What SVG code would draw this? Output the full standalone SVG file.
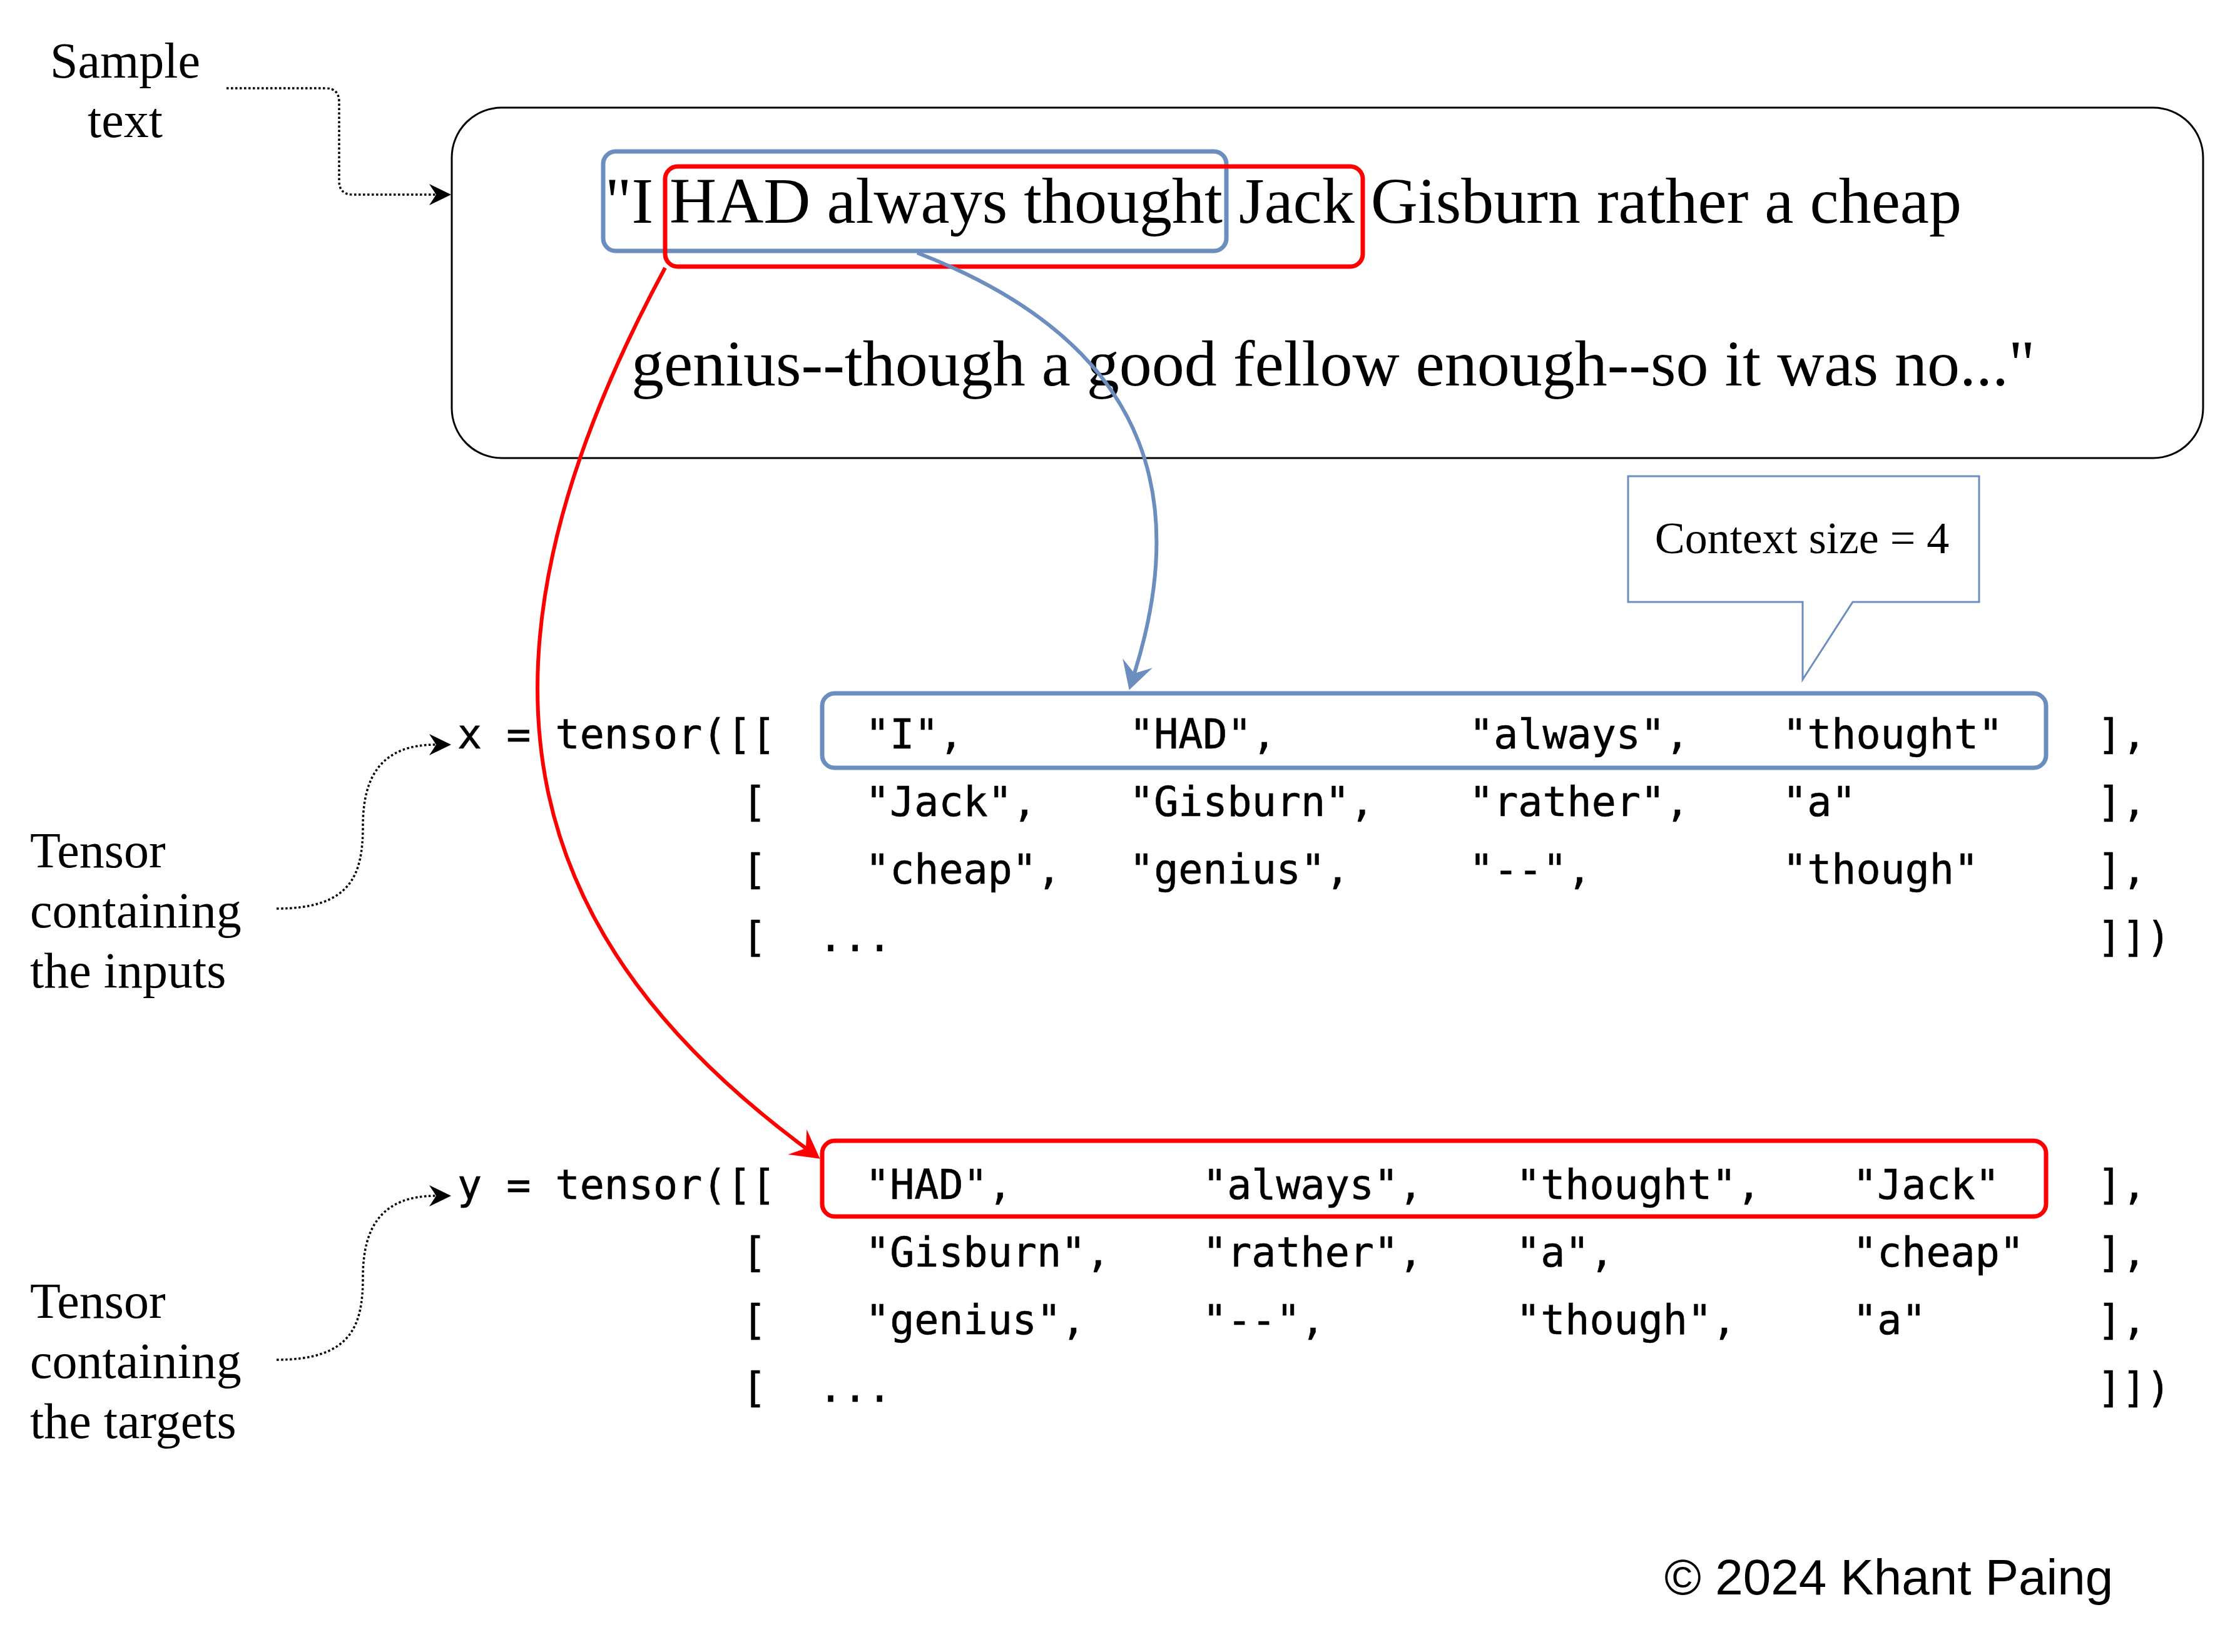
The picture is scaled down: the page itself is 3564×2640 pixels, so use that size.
<svg xmlns="http://www.w3.org/2000/svg" width="3564" height="2640" viewBox="0 0 3564 2640">
  <style>
    .serif { font-family: "Liberation Serif", "Times New Roman", serif; fill: #000; }
    .mono { font-family: "DejaVu Sans Mono", "Liberation Mono", monospace; font-size: 65px; fill: #000; stroke: #000; stroke-width: 0.6; }
    .lbl { font-size: 80px; }
    .main { font-size: 104px; }
    .blue { fill: none; stroke: #6c8ebf; stroke-width: 7; }
    .red { fill: none; stroke: #ff0000; stroke-width: 7; }
    .dot { fill: none; stroke: #000; stroke-width: 3.5; stroke-dasharray: 3.5 3.5; }
  </style>
  <defs>
    <marker id="ah-blue" viewBox="-46 -26 48 52" refX="-28" refY="0" markerWidth="48" markerHeight="52" markerUnits="userSpaceOnUse" orient="auto">
      <path d="M0,0 L-45,-25 L-28,0 L-45,25 Z" fill="#6c8ebf"/>
    </marker>
    <marker id="ah-red" viewBox="-46 -26 48 52" refX="-28" refY="0" markerWidth="48" markerHeight="52" markerUnits="userSpaceOnUse" orient="auto">
      <path d="M0,0 L-45,-25 L-28,0 L-45,25 Z" fill="#ff0000"/>
    </marker>
    <marker id="ah-black" viewBox="-37 -19 39 38" refX="-24" refY="0" markerWidth="39" markerHeight="38" markerUnits="userSpaceOnUse" orient="auto">
      <path d="M0,0 L-35,-17 L-24,0 L-35,17 Z" fill="#000"/>
    </marker>
  </defs>
  <rect width="3564" height="2640" fill="#fff"/>

  <g id="sample-label">
    <text class="serif lbl" x="200" y="124" text-anchor="middle">Sample</text>
    <text class="serif lbl" x="200" y="219" text-anchor="middle">text</text>
  </g>

  <g id="sample-text-box">
    <rect x="722" y="172" width="2799" height="560" rx="80" ry="80" fill="#fff" stroke="#000" stroke-width="3"/>
    <text class="serif main" x="967" y="356">"I HAD always thought Jack Gisburn rather a cheap</text>
    <text class="serif main" x="1009" y="616">genius--though a good fellow enough--so it was no..."</text>
  </g>

  <g id="input-window">
    <rect class="blue" x="964" y="242" width="996" height="159" rx="20" ry="20"/>
  </g>
  <g id="target-window">
    <rect class="red" x="1063" y="266" width="1115" height="160" rx="20" ry="20"/>
  </g>

  <g id="context-callout">
    <path d="M2602 761 H3163 V962 H2961 L2881 1086 V962 H2602 Z" fill="#fff" stroke="#6c8ebf" stroke-width="3"/>
    <text class="serif" x="2880" y="884" font-size="72" text-anchor="middle">Context size = 4</text>
  </g>

  <g id="x-tensor">
    <rect class="blue" x="1314" y="1108" width="1956" height="119" rx="20" ry="20"/>
    <text class="mono" x="731" y="1196">x = tensor([[</text>
    <text class="mono" x="1383" y="1196">"I",</text>
    <text class="mono" x="1805" y="1196">"HAD",</text>
    <text class="mono" x="2348" y="1196">"always",</text>
    <text class="mono" x="2849" y="1196">"thought"</text>
    <text class="mono" x="3352" y="1196">],</text>
    <text class="mono" x="1186" y="1304">[</text>
    <text class="mono" x="1383" y="1304">"Jack",</text>
    <text class="mono" x="1805" y="1304">"Gisburn",</text>
    <text class="mono" x="2348" y="1304">"rather",</text>
    <text class="mono" x="2849" y="1304">"a"</text>
    <text class="mono" x="3352" y="1304">],</text>
    <text class="mono" x="1186" y="1412">[</text>
    <text class="mono" x="1383" y="1412">"cheap",</text>
    <text class="mono" x="1805" y="1412">"genius",</text>
    <text class="mono" x="2348" y="1412">"--",</text>
    <text class="mono" x="2849" y="1412">"though"</text>
    <text class="mono" x="3352" y="1412">],</text>
    <text class="mono" x="1186" y="1520">[</text>
    <text class="mono" x="1308" y="1520">...</text>
    <text class="mono" x="3352" y="1520">]])</text>
  </g>

  <g id="y-tensor">
    <rect class="red" x="1314" y="1823" width="1956" height="121" rx="20" ry="20"/>
    <text class="mono" x="731" y="1916">y = tensor([[</text>
    <text class="mono" x="1383" y="1916">"HAD",</text>
    <text class="mono" x="1922" y="1916">"always",</text>
    <text class="mono" x="2423" y="1916">"thought",</text>
    <text class="mono" x="2961" y="1916">"Jack"</text>
    <text class="mono" x="3352" y="1916">],</text>
    <text class="mono" x="1186" y="2024">[</text>
    <text class="mono" x="1383" y="2024">"Gisburn",</text>
    <text class="mono" x="1922" y="2024">"rather",</text>
    <text class="mono" x="2423" y="2024">"a",</text>
    <text class="mono" x="2961" y="2024">"cheap"</text>
    <text class="mono" x="3352" y="2024">],</text>
    <text class="mono" x="1186" y="2132">[</text>
    <text class="mono" x="1383" y="2132">"genius",</text>
    <text class="mono" x="1922" y="2132">"--",</text>
    <text class="mono" x="2423" y="2132">"though",</text>
    <text class="mono" x="2961" y="2132">"a"</text>
    <text class="mono" x="3352" y="2132">],</text>
    <text class="mono" x="1186" y="2240">[</text>
    <text class="mono" x="1308" y="2240">...</text>
    <text class="mono" x="3352" y="2240">]])</text>
  </g>

  <g id="inputs-label">
    <text class="serif lbl" x="48" y="1386">Tensor</text>
    <text class="serif lbl" x="48" y="1482">containing</text>
    <text class="serif lbl" x="48" y="1578">the inputs</text>
  </g>

  <g id="targets-label">
    <text class="serif lbl" x="48" y="2106">Tensor</text>
    <text class="serif lbl" x="48" y="2202">containing</text>
    <text class="serif lbl" x="48" y="2298">the targets</text>
  </g>

  <g id="copyright">
    <text x="2660" y="2548" font-family="Liberation Sans, Arial, Helvetica, sans-serif" font-size="80" fill="#000">© 2024 Khant Paing</text>
  </g>

  <g id="connectors">
    <path class="dot" d="M362 141 H520 Q542 141 542 163 V289 Q542 311 564 311 H697" marker-end="url(#ah-black)"/>
    <path class="dot" d="M442 1452 C560 1452 580 1400 580 1320 C580 1240 610 1190 697 1190" marker-end="url(#ah-black)"/>
    <path class="dot" d="M442 2173 C560 2173 580 2121 580 2041 C580 1961 610 1911 697 1911" marker-end="url(#ah-black)"/>
    <path d="M1466 404 C1870 560 1890 830 1813 1076" fill="none" stroke="#6c8ebf" stroke-width="6" marker-end="url(#ah-blue)"/>
    <path d="M1063 428 C700 1100 850 1510 1288 1835" fill="none" stroke="#ff0000" stroke-width="6" marker-end="url(#ah-red)"/>
  </g>
</svg>
